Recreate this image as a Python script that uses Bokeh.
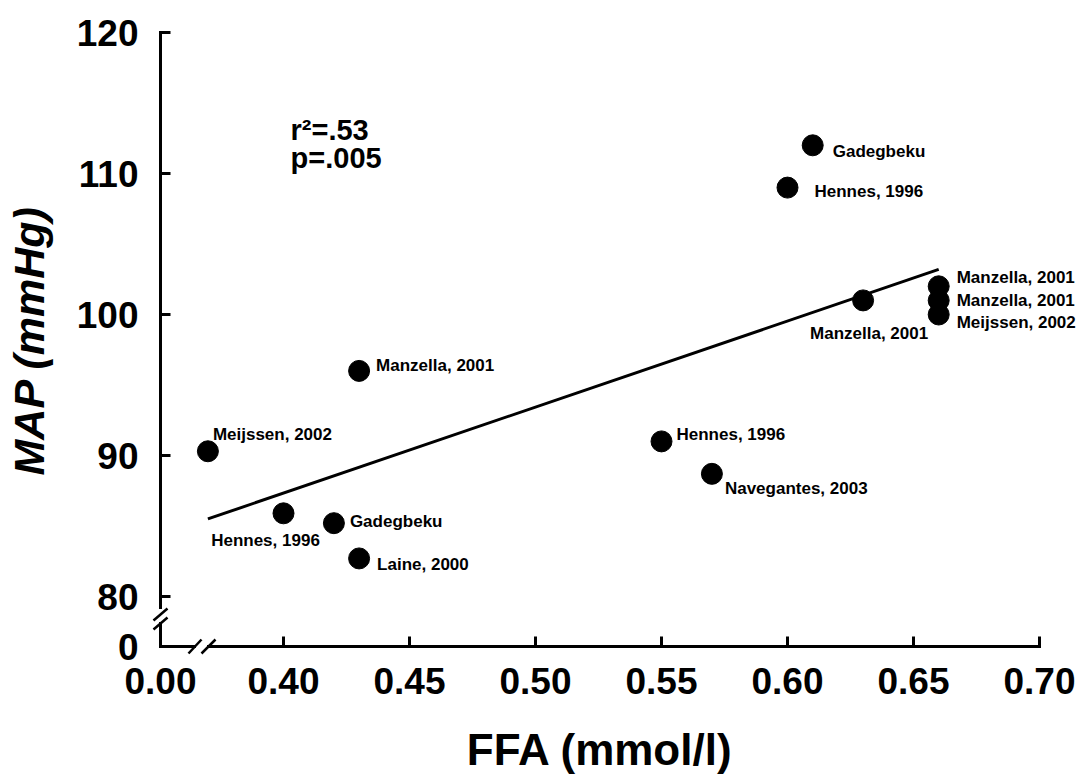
from bokeh.plotting import figure
from bokeh.models import Range1d, FixedTicker, ColumnDataSource, LinearAxis
from bokeh.core.properties import value
from bokeh.embed import file_html
from bokeh.resources import INLINE

# ---------------- data ----------------
ffa = [0.37, 0.40, 0.42, 0.43, 0.43, 0.55, 0.57, 0.60, 0.61, 0.63, 0.66, 0.66, 0.66]
map_mmhg = [90.3, 85.9, 85.2, 82.7, 96.0, 91.0, 88.7, 109.0, 112.0, 101.0, 102.0, 101.0, 100.0]
study = ["Meijssen, 2002", "Hennes, 1996", "Gadegbeku", "Laine, 2000",
         "Manzella, 2001", "Hennes, 1996", "Navegantes, 2003", "Hennes, 1996",
         "Gadegbeku", "Manzella, 2001", "Manzella, 2001", "Manzella, 2001",
         "Meijssen, 2002"]
fit_ffa = [0.37, 0.66]
fit_map = [85.5, 103.2]
x_ticks = [0.40, 0.45, 0.50, 0.55, 0.60, 0.65, 0.70]
x_tick_labels = ["0.40", "0.45", "0.50", "0.55", "0.60", "0.65", "0.70"]
y_ticks = [80, 90, 100, 110, 120]
y_tick_labels = ["80", "90", "100", "110", "120"]
x_origin_label = "0.00"
y_origin_label = "0"
x_title = "FFA (mmol/l)"
y_title = "MAP (mmHg)"
stats_text = ["r\u00b2=.53", "p=.005"]

# ---------------- layout / style ----------------
SX = 2520.0   # px per FFA unit
SY = 14.1     # px per mmHg
X0 = 0.40 - 123.0 / SX   # broken-axis origin shown as "0.00"
Y0 = 80.0 - 50.0 / SY    # broken-axis origin shown as "0"
XMAX, YMAX = x_ticks[-1], y_ticks[-1]
PADX, PADY = 37, 12      # px of frame outside the drawn axes
FONT = value("Liberation Sans")

W, H = 1076, 776
AXIS_PX, TOP = 160, 22
LEFT = AXIS_PX - PADX
x_start, x_end = X0 - PADX / SX, XMAX + PADX / SX
y_start, y_end = Y0 - PADY / SY, YMAX + 10 / SY
fw = round((x_end - x_start) * SX)
fh = round((y_end - y_start) * SY)

# label offsets (px) and alignment for each study label
lab_dx = [5, -18, 16, 18, 17, 15, 13, 27, 20, 6, 18, 18, 18]
lab_dy = [-17, 27, -2, 6, -5, -7, 15, 4, 6, 33, -9, 0, 8]
lab_align = ["left", "center", "left", "left", "left", "left", "left",
             "left", "left", "center", "left", "left", "left"]

p = figure(frame_width=fw, frame_height=fh, output_backend="svg", toolbar_location=None,
           x_range=Range1d(x_start, x_end), y_range=Range1d(y_start, y_end),
           x_axis_location=None, y_axis_location=None,
           min_border_left=LEFT, min_border_right=max(W - LEFT - fw, 0),
           min_border_top=TOP, min_border_bottom=H - TOP - fh)
p.outline_line_color = None
p.xgrid.visible = False
p.ygrid.visible = False
p.background_fill_color = "white"
p.border_fill_color = "white"

xt = [X0] + x_ticks
yt = [Y0] + y_ticks
xaxis = LinearAxis(ticker=FixedTicker(ticks=xt), bounds=(X0, XMAX),
                   major_label_overrides={t: l for t, l in zip(xt, [x_origin_label] + x_tick_labels)})
yaxis = LinearAxis(ticker=FixedTicker(ticks=yt), bounds=(Y0, YMAX),
                   major_label_overrides={t: l for t, l in zip(yt, [y_origin_label] + y_tick_labels)})
for ax in (xaxis, yaxis):
    ax.axis_line_color = None
    ax.major_tick_line_color = None
    ax.minor_tick_line_color = None
    ax.major_tick_in = 0
    ax.major_tick_out = 0
    ax.major_label_text_font = "Liberation Sans"
    ax.major_label_text_font_style = "bold"
    ax.major_label_text_font_size = "37px"
    ax.major_label_text_color = "black"
    ax.axis_label_text_font = "Liberation Sans"
    ax.axis_label_text_color = "black"
xaxis.axis_label = x_title
xaxis.axis_label_text_font_style = "bold"
xaxis.axis_label_text_font_size = "44px"
xaxis.major_label_standoff = 9
xaxis.axis_label_standoff = 28
yaxis.axis_label = y_title
yaxis.axis_label_text_font_style = "bold italic"
yaxis.axis_label_text_font_size = "43px"
yaxis.major_label_standoff = 10 - (PADX - 12)   # labels sit 10px left of the drawn axis
yaxis.axis_label_standoff = 21
p.add_layout(xaxis, "below")
p.add_layout(yaxis, "left")

# drawn axis lines with breaks (gap offsets in px from the origin)
AX = dict(line_color="black", line_width=3, line_cap="square")
p.segment(x0=[X0, X0, X0, X0 + 48 / SX], y0=[Y0, Y0 + 39 / SY, Y0, Y0],
          x1=[X0, X0, X0 + 34 / SX, XMAX], y1=[Y0 + 23 / SY, YMAX, Y0, Y0], **AX)
# inward ticks
p.segment(x0=x_ticks, y0=[Y0] * len(x_ticks), x1=x_ticks, y1=[Y0 + 10 / SY] * len(x_ticks),
          line_color="black", line_width=3)
p.segment(x0=[X0] * len(y_ticks), y0=y_ticks, x1=[X0 + 10 / SX] * len(y_ticks), y1=y_ticks,
          line_color="black", line_width=3)
# break slashes
p.segment(x0=[X0 - 7 / SX, X0 - 7 / SX, X0 + 28 / SX, X0 + 41 / SX],
          y0=[Y0 + 17 / SY, Y0 + 26 / SY, Y0 - 7 / SY, Y0 - 7 / SY],
          x1=[X0 + 7 / SX, X0 + 7 / SX, X0 + 41 / SX, X0 + 55 / SX],
          y1=[Y0 + 29 / SY, Y0 + 38 / SY, Y0 + 7 / SY, Y0 + 7 / SY],
          line_color="black", line_width=2.5)

# regression line and points
p.line(fit_ffa, fit_map, line_color="black", line_width=3)
src = ColumnDataSource(dict(x=ffa, y=map_mmhg, study=study, dx=lab_dx, dy=lab_dy, align=lab_align))
p.scatter("x", "y", source=src, size=21, fill_color="black", line_color="black")
p.text("x", "y", text="study", source=src, x_offset="dx", y_offset="dy",
       text_align="align", text_baseline="middle", text_font=FONT,
       text_font_style="bold", text_font_size="17px", text_color="black")

# statistics annotation
p.text(x=[0.4028, 0.4028], y=[113.1, 111.1], text=stats_text, text_align="left",
       text_baseline="middle", text_font=FONT, text_font_style="bold",
       text_font_size="29px", text_color="black")

open("out.html", "w").write(file_html(p, INLINE))
